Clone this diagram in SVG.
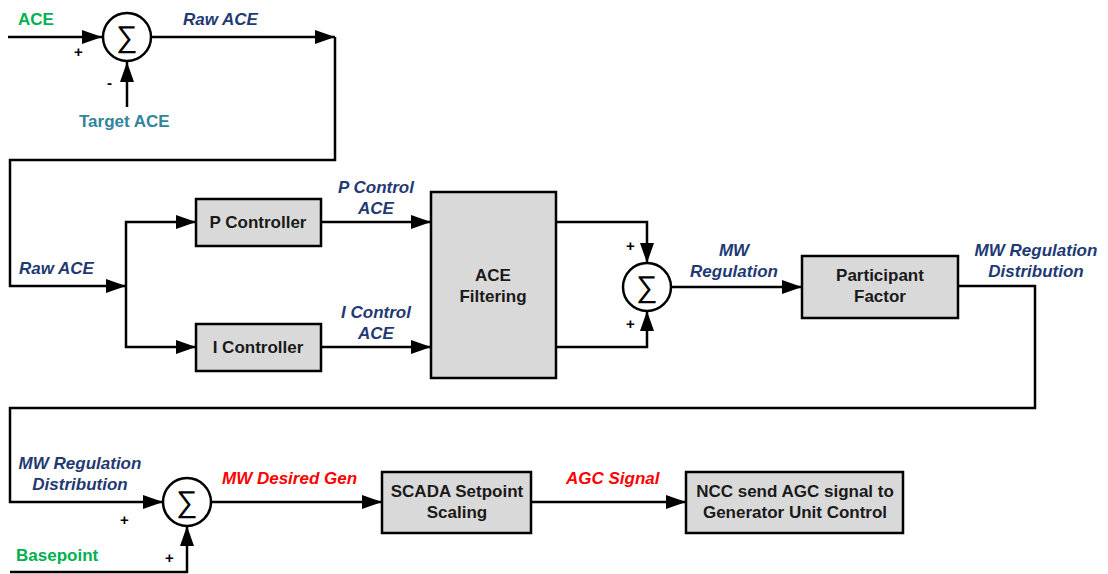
<svg xmlns="http://www.w3.org/2000/svg" width="1108" height="574" viewBox="0 0 1108 574">
<style>
.box{fill:#D9D9D9;stroke:#000;stroke-width:2.5}
.sum{fill:#fff;stroke:#000;stroke-width:2.5}
.ln{fill:none;stroke:#000;stroke-width:2.5}
.t{font-family:"Liberation Sans",Arial,sans-serif;font-weight:bold;font-size:17px;fill:#1a1a1a;text-anchor:middle}
.lb{font-family:"Liberation Sans",Arial,sans-serif;font-weight:bold;font-style:italic;font-size:17px;fill:#1F3A73}
.red{fill:#FF0000}
.grn{font-family:"Liberation Sans",Arial,sans-serif;font-weight:bold;font-size:17px;fill:#00B050}
.teal{font-family:"Liberation Sans",Arial,sans-serif;font-weight:bold;font-size:17px;fill:#31849B}
.pm{font-family:"Liberation Sans",Arial,sans-serif;font-weight:bold;font-size:15px;fill:#000}
.sg{font-family:"Liberation Sans",sans-serif;font-size:30px;fill:#000;text-anchor:middle}
</style>
<defs>
<marker id="ah" markerUnits="userSpaceOnUse" markerWidth="20" markerHeight="14" refX="20" refY="7" orient="auto">
<path d="M0,0 L20,7 L0,14 z" fill="#000"/>
</marker>
</defs>
<g id="connectors">
<path class="ln" d="M8,37 H102" marker-end="url(#ah)"/>
<path class="ln" d="M127,107 V62" marker-end="url(#ah)"/>
<path class="ln" d="M151,37 H335" marker-end="url(#ah)"/>
<path class="ln" d="M335,37 V160 H10 V286 H126" marker-end="url(#ah)"/>
<path class="ln" d="M126,286 V222 H196" marker-end="url(#ah)"/>
<path class="ln" d="M126,286 V347 H196" marker-end="url(#ah)"/>
<path class="ln" d="M321,222 H431" marker-end="url(#ah)"/>
<path class="ln" d="M321,347 H431" marker-end="url(#ah)"/>
<path class="ln" d="M556,222 H647 V263" marker-end="url(#ah)"/>
<path class="ln" d="M556,347 H647 V311" marker-end="url(#ah)"/>
<path class="ln" d="M671,287 H802" marker-end="url(#ah)"/>
<path class="ln" d="M958,286 H1035 V408 H10 V502 H163" marker-end="url(#ah)"/>
<path class="ln" d="M10,572 H187 V526" marker-end="url(#ah)"/>
<path class="ln" d="M211,502 H382" marker-end="url(#ah)"/>
<path class="ln" d="M531,502 H686" marker-end="url(#ah)"/>
</g>
<g id="sum1">
<circle class="sum" cx="127" cy="37" r="24"/>
<text class="sg" x="127" y="47">∑</text>
</g>
<g id="pController">
<rect class="box" x="196" y="199" width="125" height="47"/>
<text class="t" x="258" y="228">P Controller</text>
</g>
<g id="iController">
<rect class="box" x="196" y="324" width="125" height="47"/>
<text class="t" x="258" y="353">I Controller</text>
</g>
<g id="aceFiltering">
<rect class="box" x="431" y="192" width="125" height="186"/>
<text class="t" x="493" y="281">ACE</text>
<text class="t" x="493" y="302">Filtering</text>
</g>
<g id="sum2">
<circle class="sum" cx="647" cy="287" r="24"/>
<text class="sg" x="647" y="297">∑</text>
</g>
<g id="participantFactor">
<rect class="box" x="802" y="256" width="156" height="62"/>
<text class="t" x="880" y="281">Participant</text>
<text class="t" x="880" y="302">Factor</text>
</g>
<g id="sum3">
<circle class="sum" cx="187" cy="502" r="24"/>
<text class="sg" x="187" y="512">∑</text>
</g>
<g id="scada">
<rect class="box" x="382" y="472" width="149" height="61"/>
<text class="t" x="457" y="497">SCADA Setpoint</text>
<text class="t" x="457" y="518">Scaling</text>
</g>
<g id="ncc">
<rect class="box" x="686" y="472" width="217" height="61"/>
<text class="t" x="795" y="497">NCC send AGC signal to</text>
<text class="t" x="795" y="518">Generator Unit Control</text>
</g>
<g id="labels">
<text class="grn" x="18" y="25">ACE</text>
<text class="lb" x="183" y="25">Raw ACE</text>
<text class="pm" x="74" y="57">+</text>
<text class="pm" x="107" y="88">-</text>
<text class="teal" x="79" y="127">Target ACE</text>
<text class="lb" x="19" y="274">Raw ACE</text>
<text class="lb" x="376" y="193" text-anchor="middle">P Control</text>
<text class="lb" x="376" y="214" text-anchor="middle">ACE</text>
<text class="lb" x="376" y="318" text-anchor="middle">I Control</text>
<text class="lb" x="376" y="339" text-anchor="middle">ACE</text>
<text class="pm" x="626" y="251">+</text>
<text class="pm" x="626" y="329">+</text>
<text class="lb" x="734" y="256" text-anchor="middle">MW</text>
<text class="lb" x="734" y="277" text-anchor="middle">Regulation</text>
<text class="lb" x="1036" y="256" text-anchor="middle">MW Regulation</text>
<text class="lb" x="1036" y="277" text-anchor="middle">Distribution</text>
<text class="lb" x="80" y="469" text-anchor="middle">MW Regulation</text>
<text class="lb" x="80" y="490" text-anchor="middle">Distribution</text>
<text class="pm" x="120" y="525">+</text>
<text class="pm" x="165" y="563">+</text>
<text class="grn" x="16" y="561">Basepoint</text>
<text class="lb red" x="222" y="484">MW Desired Gen</text>
<text class="lb red" x="566" y="484">AGC Signal</text>
</g>
</svg>
